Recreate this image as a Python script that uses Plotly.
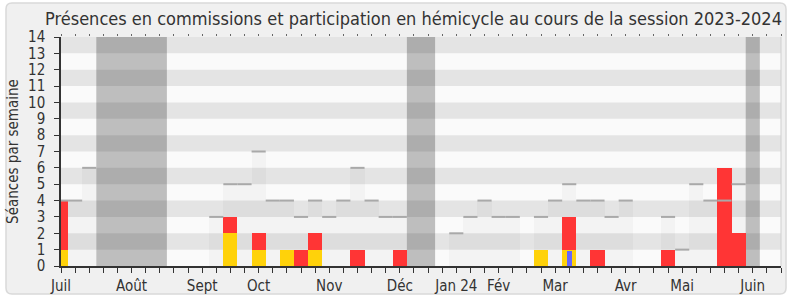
import plotly.graph_objects as go

# ---------------- data ----------------
weeks = list(range(51))
month_labels = ["Juil", "Août", "Sept", "Oct", "Nov", "Déc", "Jan 24", "Fév", "Mar", "Avr", "Mai", "Juin"]
month_weeks = [0, 5, 10, 14, 19, 24, 28, 31, 35, 40, 44, 49]
vacation_weeks = [3, 4, 5, 6, 7, 25, 26, 49]

commission = [1, 0, 0, 0, 0, 0, 0, 0, 0, 0,
              0, 0, 2, 0, 1, 0, 1, 0, 1, 0,
              0, 0, 0, 0, 0, 0, 0, 0, 0, 0,
              0, 0, 0, 0, 1, 0, 1, 0, 0, 0,
              0, 0, 0, 0, 0, 0, 0, 0, 0, 0,
              0]
hemicycle = [3, 0, 0, 0, 0, 0, 0, 0, 0, 0,
             0, 0, 1, 0, 1, 0, 0, 1, 1, 0,
             0, 1, 0, 0, 1, 0, 0, 0, 0, 0,
             0, 0, 0, 0, 0, 0, 2, 0, 1, 0,
             0, 0, 0, 1, 0, 0, 0, 6, 2, 0,
             0]
questions = [0] * 36 + [0.9] + [0] * 14
median = [4, 4, 6, None, None, None, None, None, 0, 0,
          0, 3, 5, 5, 7, 4, 4, 3, 4, 3,
          4, 6, 4, 3, 3, None, None, 0, 2, 3,
          4, 3, 3, 0, 3, 4, 5, 4, 4, 3,
          4, 0, 0, 3, 1, 5, 4, 4, 5, None,
          0]
y_ticks = list(range(15))
n_ticks = 52

# ---------------- style ----------------
FONT = "DejaVu Sans Condensed, DejaVu Sans, sans-serif"
TXT = "#333333"
L, R, T, B = 61, 9, 37, 34
W, H = 790, 300
PW, PH = W - L - R, H - T - B


def fx(px):
    return (px - L) / PW


def fy(py):
    return (H - B - py) / PH


def rounded(x0, y0, x1, y1, r):
    rx, ry = r / PW, r / PH
    X0, X1, Y0, Y1 = fx(x0), fx(x1), fy(y0), fy(y1)
    return (f"M {X0+rx},{Y0} L {X1-rx},{Y0} Q {X1},{Y0} {X1},{Y0-ry} "
            f"L {X1},{Y1+ry} Q {X1},{Y1} {X1-rx},{Y1} L {X0+rx},{Y1} "
            f"Q {X0},{Y1} {X0},{Y1+ry} L {X0},{Y0-ry} Q {X0},{Y0} {X0+rx},{Y0} Z")


fig = go.Figure()

# median bars
med_vals = [m if m else 0 for m in median]
fig.add_trace(go.Bar(x=weeks, y=med_vals, width=1, marker=dict(color="rgba(0,0,0,0.028)", line=dict(width=0)),
                     hoverinfo="skip", showlegend=False))
# median top lines
lx, ly = [], []
for w, m in zip(weeks, median):
    if m:
        lx += [w - 0.5, w + 0.5, None]
        ly += [m, m, None]
fig.add_trace(go.Scatter(x=lx, y=ly, mode="lines", line=dict(color="#a9a9a9", width=2),
                         hoverinfo="skip", showlegend=False, cliponaxis=True))

# commission (yellow)
fig.add_trace(go.Bar(x=weeks, y=commission, width=1, marker=dict(color="#ffd20a", line=dict(width=0)),
                     showlegend=False))
# hemicycle (red) stacked on commission
fig.add_trace(go.Bar(x=weeks, y=hemicycle, base=commission, width=1,
                     marker=dict(color="#ff3535", line=dict(width=0)), showlegend=False))
# questions (blue, thin)
fig.add_trace(go.Bar(x=weeks, y=questions, width=0.33, marker=dict(color="#6666ff", line=dict(width=0)),
                     showlegend=False))
# invisible trace for top axis
fig.add_trace(go.Scatter(x=[0], y=[0], xaxis="x2", mode="markers", marker=dict(opacity=0),
                         hoverinfo="skip", showlegend=False))

shapes = []
# outer frame & plot background (paper layer, below)
shapes.append(dict(type="path", path=rounded(6, 3, 786, 294, 6), xref="paper", yref="paper",
                   fillcolor="#f0f0f0", line=dict(color="#d9d9d9", width=1.5), layer="below"))
shapes.append(dict(type="rect", x0=0, x1=1, y0=0, y1=1, xref="paper", yref="paper",
                   fillcolor="#fafafa", line=dict(width=0), layer="below"))
# vacations merged into contiguous runs
runs = []
for v in vacation_weeks:
    if runs and v == runs[-1][1] + 1:
        runs[-1][1] = v
    else:
        runs.append([v, v])
for a, b in runs:
    shapes.append(dict(type="rect", x0=a - 0.5, x1=b + 0.5, y0=0, y1=14, xref="x", yref="y",
                       fillcolor="#bebebe", line=dict(width=0), layer="below"))
# alternating bands (drawn over vacations)
for k in y_ticks[1:-1:2]:
    shapes.append(dict(type="rect", x0=0, x1=n_ticks - 1, y0=k, y1=k + 1, xref="x", yref="y",
                       fillcolor="rgba(0,0,0,0.085)", line=dict(width=0), layer="below"))
# right border
shapes.append(dict(type="line", x0=1, x1=1, y0=0, y1=1, xref="paper", yref="paper",
                   line=dict(color="#d0d0d0", width=1), layer="above"))

ticktext = [""] * n_ticks
for lab, w in zip(month_labels, month_weeks):
    ticktext[w] = lab

fig.update_layout(
    width=W, height=H,
    margin=dict(l=L, r=R, t=T, b=B, pad=0),
    paper_bgcolor="white",
    plot_bgcolor="rgba(0,0,0,0)",
    barmode="overlay",
    bargap=0,
    font=dict(family=FONT, color=TXT, size=15),
    shapes=shapes,
    title=dict(text="Présences en commissions et participation en hémicycle au cours de la session 2023-2024",
               x=413.5 / W, xref="container", xanchor="center",
               y=1 - 19 / H, yref="container", yanchor="middle",
               font=dict(family=FONT, size=18, color=TXT)),
    xaxis=dict(range=[0, n_ticks - 1], tickmode="array", tickvals=list(range(n_ticks)), ticktext=ticktext,
               ticks="outside", ticklen=5, tickcolor="#333", tickwidth=1, automargin=False,
               showline=True, linecolor="#333", linewidth=1.5, showgrid=False, zeroline=False,
               tickfont=dict(size=15, color=TXT), fixedrange=True),
    xaxis2=dict(range=[0, n_ticks - 1], overlaying="x", side="top", tickmode="array", automargin=False,
                tickvals=list(range(n_ticks)), showticklabels=False, ticks="outside", ticklen=2,
                tickcolor="#666", showline=False, showgrid=False, zeroline=False),
    yaxis=dict(range=[0, 14], tickmode="array", tickvals=y_ticks, ticks="outside", ticklen=5,
               tickcolor="#333", showline=True, linecolor="#333", linewidth=1.5, showgrid=False,
               zeroline=False, ticklabelstandoff=6, tickfont=dict(size=15, color=TXT), automargin=False,
               title=dict(text="Séances par semaine", font=dict(size=15, color=TXT), standoff=6)),
)

fig.write_html("out.html")
